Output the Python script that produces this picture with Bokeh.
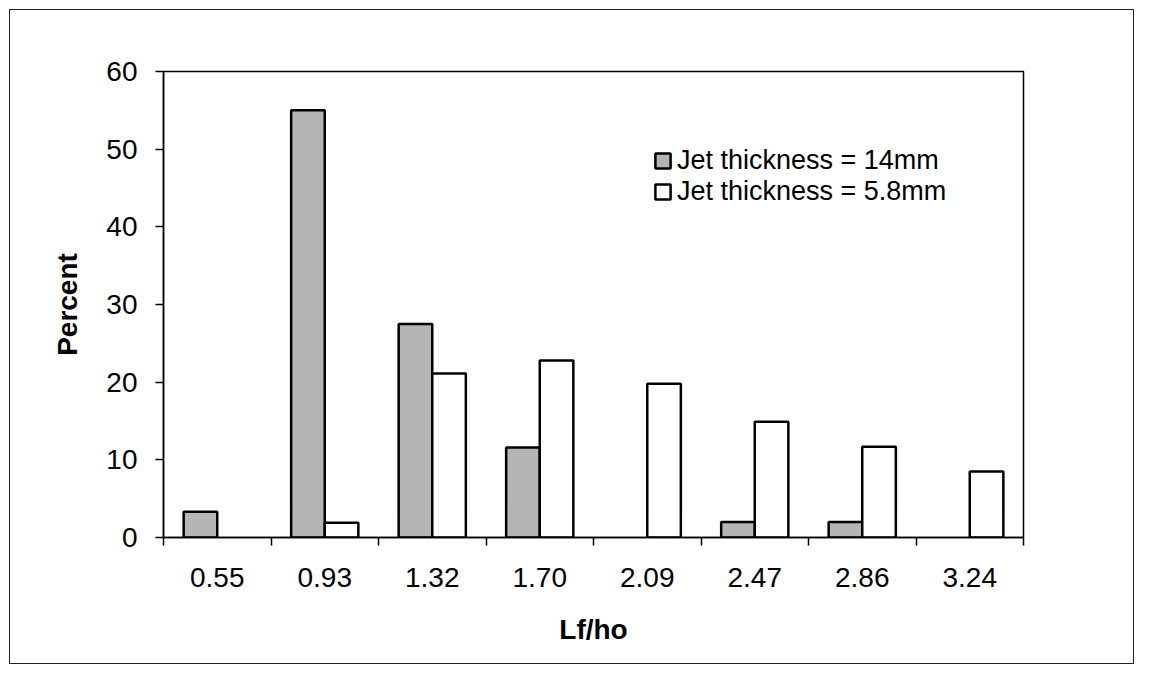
from bokeh.plotting import figure
from bokeh.models import FixedTicker, Range1d, Legend, LegendItem, ColumnDataSource
from bokeh.embed import file_html
from bokeh.resources import INLINE

# Lf/ho bins and the percentage of cases falling in each one
categories = ["0.55", "0.93", "1.32", "1.70", "2.09", "2.47", "2.86", "3.24"]
jet_14mm = [3.3, 55.0, 27.5, 11.6, 0.0, 2.0, 2.0, 0.0]
jet_5_8mm = [0.0, 1.9, 21.1, 22.8, 19.8, 14.9, 11.7, 8.5]
y_ticks = [0, 10, 20, 30, 40, 50, 60]

n = len(categories)
bar_w = 1.0 / 3.2          # two bars per group with a 120% gap
centers = [i + 0.5 for i in range(n)]


def bar_source(values, shift):
    # empty bins get no bar at all
    xs, tops = [], []
    for c, v in zip(centers, values):
        if v > 0:
            xs.append(c + shift)
            tops.append(v)
    return ColumnDataSource(dict(x=xs, top=tops))


src_a = bar_source(jet_14mm, -bar_w / 2)
src_b = bar_source(jet_5_8mm, bar_w / 2)

FONT = "Liberation Sans"
TICK_SIZE = "28px"
TITLE_SIZE = "28px"

p = figure(width=1125, height=655, output_backend="svg", toolbar_location=None,
           x_range=Range1d(0, n), y_range=Range1d(0, 60),
           min_border_left=153, min_border_right=112,
           min_border_top=61, min_border_bottom=128)
p.styles = {"border": "1.5px solid #222", "margin-left": "9px", "margin-top": "9px"}

p.grid.visible = False
p.background_fill_color = "white"
p.border_fill_color = "white"
p.outline_line_color = "black"
p.outline_line_width = 1.5

r_a = p.vbar(x="x", top="top", width=bar_w, source=src_a,
             fill_color="#b5b5b5", line_color="black", line_width=2.5)
r_b = p.vbar(x="x", top="top", width=bar_w, source=src_b,
             fill_color="white", line_color="black", line_width=2.5)

# x axis: labels at group centres, tick marks at group boundaries
xa = p.xaxis[0]
xa.ticker = FixedTicker(ticks=centers, minor_ticks=list(range(n + 1)))
xa.major_label_overrides = {c: lab for c, lab in zip(centers, categories)}
xa.major_tick_out = 0
xa.major_tick_in = 0
xa.minor_tick_out = 8
xa.minor_tick_in = 0
xa.minor_tick_line_color = "black"
xa.minor_tick_line_width = 1.5
xa.axis_line_width = 1.5
xa.major_label_standoff = 22
xa.major_label_text_font = FONT
xa.major_label_text_font_size = TICK_SIZE
xa.major_label_text_color = "black"
xa.axis_label = "Lf/ho"
xa.axis_label_text_font = FONT
xa.axis_label_text_font_size = TITLE_SIZE
xa.axis_label_text_font_style = "bold"
xa.axis_label_text_color = "black"
xa.axis_label_standoff = 24

ya = p.yaxis[0]
ya.ticker = FixedTicker(ticks=y_ticks, minor_ticks=[])
ya.major_tick_out = 8
ya.major_tick_in = 0
ya.major_tick_line_width = 1.5
ya.axis_line_width = 1.5
ya.major_label_standoff = 18
ya.major_label_text_font = FONT
ya.major_label_text_font_size = TICK_SIZE
ya.major_label_text_color = "black"
ya.axis_label = "Percent"
ya.axis_label_text_font = FONT
ya.axis_label_text_font_size = TITLE_SIZE
ya.axis_label_text_font_style = "bold"
ya.axis_label_text_color = "black"
ya.axis_label_standoff = 20

legend = Legend(items=[LegendItem(label="Jet thickness = 14mm", renderers=[r_a]),
                       LegendItem(label="Jet thickness = 5.8mm", renderers=[r_b])],
                location=(490, 330))
legend.border_line_color = None
legend.background_fill_alpha = 0
legend.padding = 0
legend.margin = 0
legend.spacing = 0
legend.glyph_width = 19
legend.glyph_height = 19
legend.label_standoff = 5
legend.label_height = 25
legend.label_text_font = FONT
legend.label_text_font_size = "27px"
legend.label_text_color = "black"
p.add_layout(legend, "center")

open("out.html", "w").write(file_html(p, INLINE))
